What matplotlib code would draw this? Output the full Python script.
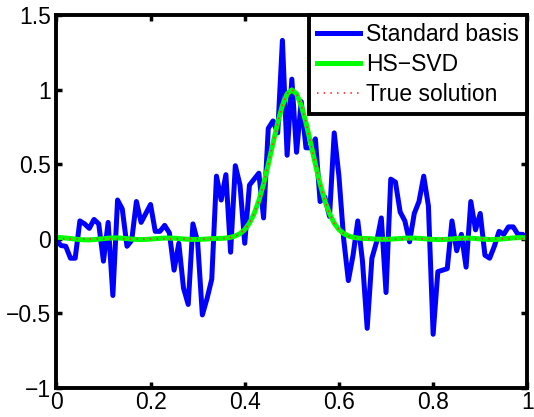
import numpy as np
import matplotlib
matplotlib.use('Agg')
import matplotlib.pyplot as plt

plt.rcParams['font.family'] = ['Liberation Sans', 'DejaVu Sans']
plt.rcParams['font.size'] = 16.5

# Reconstructed solutions on a uniform grid over [0, 1]
standard_basis = [
    -0.01, -0.045, -0.05, -0.13, -0.13, 0.12, 0.10, 0.07, 0.13, 0.10,
    -0.15, 0.11, -0.38, 0.26, 0.20, -0.05, -0.01, 0.25, 0.11, 0.17,
    0.23, 0.05, 0.05, 0.09, 0.04, -0.21, -0.03, -0.33, -0.44, 0.10,
    -0.02, -0.51, -0.40, -0.27, 0.42, 0.26, 0.43, -0.09, 0.49, 0.36,
    -0.03, 0.36, 0.40, 0.44, 0.14, 0.74, 0.79, 0.71, 1.33, 0.56,
    1.07, 0.58, 0.92, 0.61, 0.61, 0.67, 0.25, 0.28, 0.15, 0.71,
    0.42, 0.00, -0.28, -0.11, 0.12, -0.15, -0.60, -0.13, -0.02, 0.14,
    -0.36, 0.40, 0.38, 0.18, 0.12, -0.02, 0.17, 0.25, 0.42, 0.22,
    -0.64, -0.22, -0.21, -0.20, 0.12, -0.08, 0.03, -0.19, 0.25, 0.06,
    0.17, -0.11, -0.13, -0.05, 0.05, 0.03, 0.08, 0.08, 0.03, 0.03,
    0.00,
]

hs_svd = [
    0.010, 0.008, 0.005, 0.002, -0.002, -0.005, -0.007, -0.007, -0.005, -0.002,
    0.001, 0.004, 0.006, 0.006, 0.004, 0.001, -0.002, -0.004, -0.005, -0.004,
    -0.002, 0.001, 0.003, 0.005, 0.005, 0.004, 0.002, -0.001, -0.003, -0.004,
    -0.004, -0.003, -0.001, 0.001, 0.002,
    0.003, 0.005, 0.010, 0.019, 0.035, 0.062, 0.105, 0.169, 0.256, 0.368,
    0.499, 0.641, 0.778, 0.894, 0.972, 0.998,
    0.972, 0.894, 0.778, 0.641, 0.499, 0.368, 0.256, 0.169, 0.105, 0.062,
    0.035, 0.019, 0.010, 0.005, 0.003,
    0.002, 0.000, -0.002, -0.003, -0.003, -0.002, 0.000, 0.002, 0.004, 0.005,
    0.005, 0.003, 0.001, -0.002, -0.004, -0.005, -0.005, -0.003, -0.001, 0.002,
    0.004, 0.005, 0.004, 0.002, -0.001, -0.003, -0.005, -0.005, -0.003, 0.000,
    0.003, 0.006, 0.008, 0.008, 0.006,
]

true_peak = [
    0.0019, 0.0043, 0.0091, 0.0183, 0.0347, 0.0622, 0.1054, 0.1690, 0.2564, 0.3679,
    0.4994, 0.6412, 0.7788, 0.8948, 0.9726, 1.0,
    0.9726, 0.8948, 0.7788, 0.6412, 0.4994, 0.3679, 0.2564, 0.1690, 0.1054, 0.0622,
    0.0347, 0.0183, 0.0091, 0.0043, 0.0019,
]
true_solution = [0.0] * 35 + true_peak + [0.0] * 35

x = np.linspace(0, 1, len(standard_basis))

xticks = [0, 0.2, 0.4, 0.6, 0.8, 1]
xtick_labels = ['0', '0.2', '0.4', '0.6', '0.8', '1']
yticks = [-1, -0.5, 0, 0.5, 1, 1.5]
ytick_labels = ['\u22121', '\u22120.5', '0', '0.5', '1', '1.5']

fig = plt.figure(figsize=(5.34, 4.17), dpi=100)
ax = fig.add_axes([0.1055, 0.0695, 0.882, 0.8945])

ax.plot(x, standard_basis, color='#0000ff', lw=3.6, label='Standard basis')
ax.plot(x, hs_svd, color='#00ff00', lw=3.6, label='HS\u2212SVD')
ax.plot(x, true_solution, color='#ff3030', lw=1.3, ls=(0, (0.8, 2.9)),
        label='True solution')

ax.set_xlim(0, 1)
ax.set_ylim(-1, 1.5)
ax.set_xticks(xticks)
ax.set_xticklabels(xtick_labels)
ax.set_yticks(yticks)
ax.set_yticklabels(ytick_labels)
ax.tick_params(direction='in', top=True, right=True, length=4, width=2.5, pad=4)
ax.tick_params(axis='x', pad=2)
for side in ax.spines.values():
    side.set_linewidth(2.8)

leg = ax.legend(loc='upper right', borderaxespad=0, handlelength=1.85,
                handletextpad=0.3, labelspacing=0.3, borderpad=0.35,
                fancybox=False, framealpha=1)
leg.get_frame().set_edgecolor('black')
leg.get_frame().set_linewidth(2.8)

fig.savefig('out.png', dpi=100)
